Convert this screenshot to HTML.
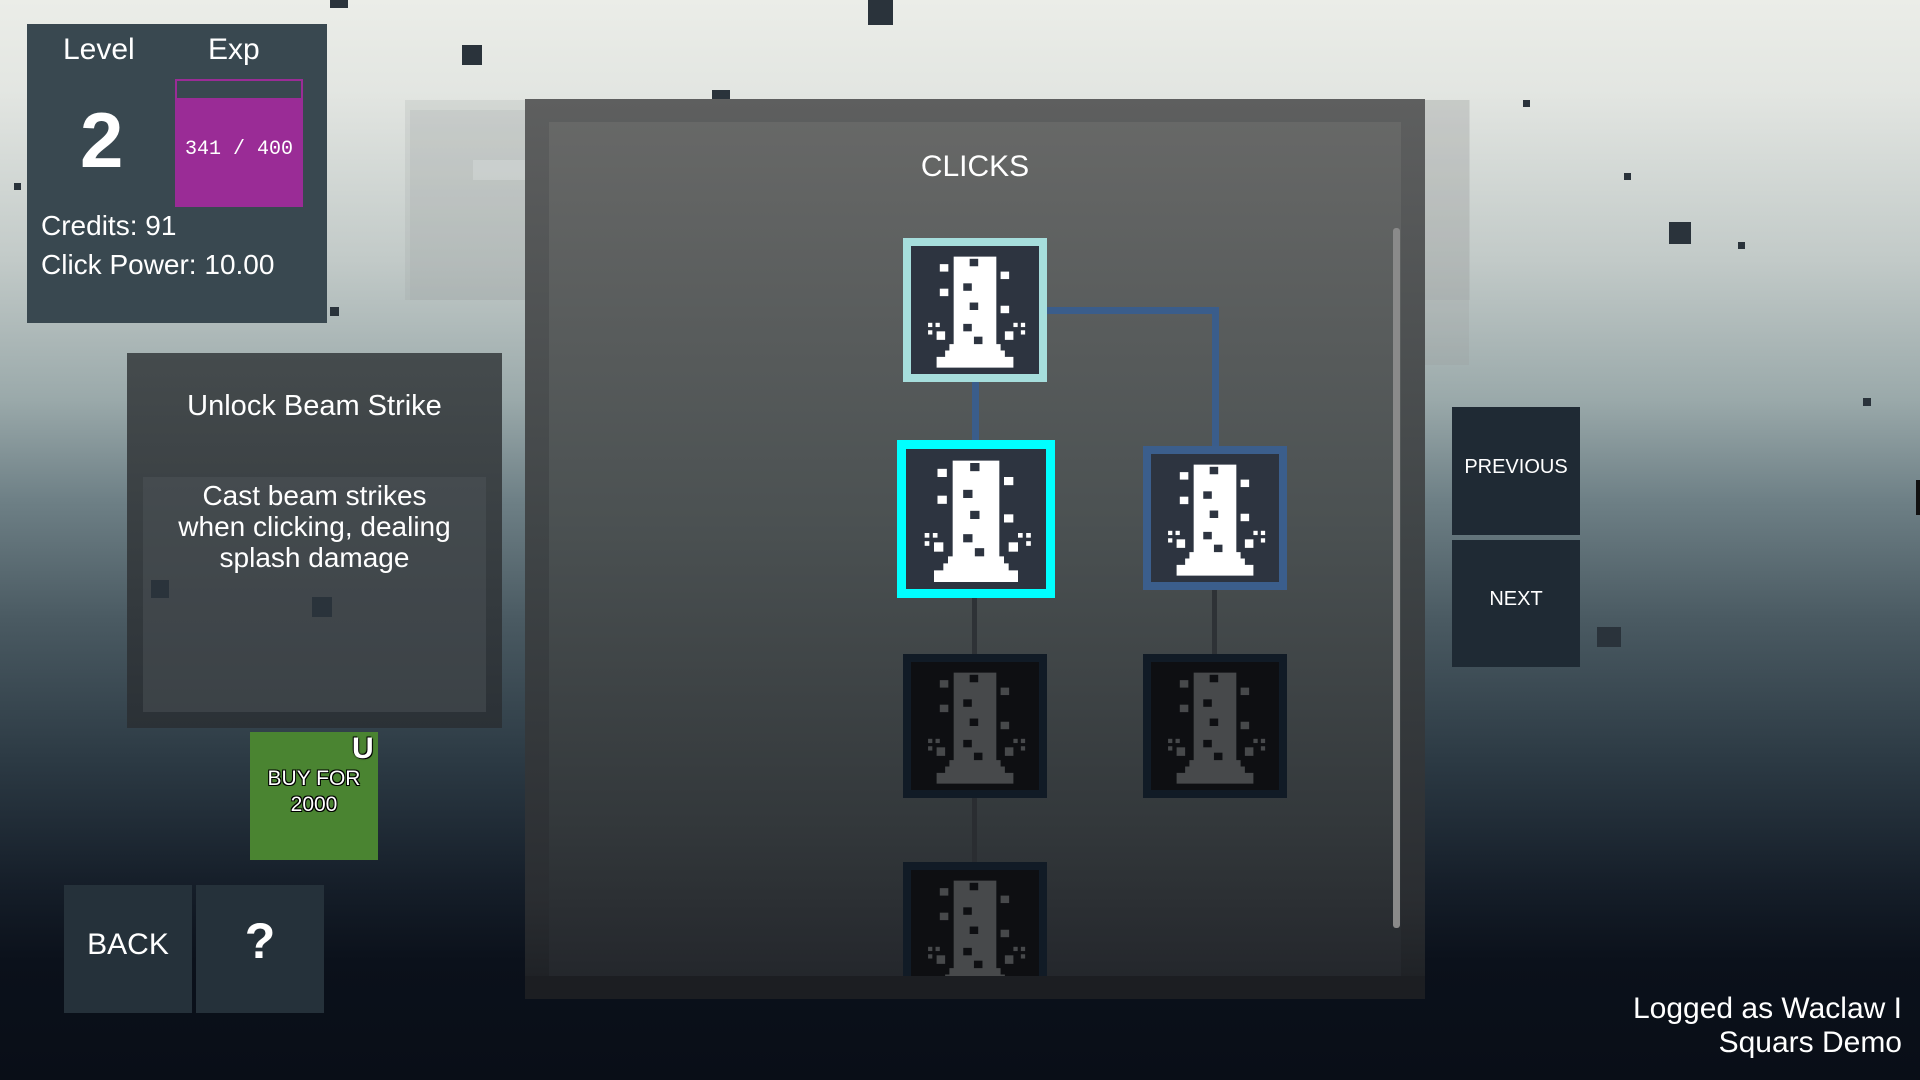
<!DOCTYPE html>
<html><head><meta charset="utf-8"><style>
*{margin:0;padding:0;box-sizing:border-box}
body{width:1920px;height:1080px;overflow:hidden;position:relative;font-family:"Liberation Mono","DejaVu Sans Mono",monospace;color:#fff;
background:linear-gradient(180deg,#ebede8 0px,#e3e6e2 90px,#c2cac8 260px,#9aa9aa 400px,#6e8086 500px,#4a5a62 620px,#2c3a44 760px,#161f2a 880px,#0b111b 960px,#090e17 1080px)}
.a{position:absolute}
.sq{position:absolute;background:#2a333b}
.node{position:absolute;width:144px;height:144px}
.node svg{position:absolute;left:0;top:0}
</style></head><body>
<svg width="0" height="0" style="position:absolute"><defs>
<g id="bld">
<path d="M44 14h40v82h4v6h4v6h8v10H28v-10h8v-6h4v-6h4z" fill="currentColor"/>
<g fill="var(--w,#2d3440)"><rect x="59" y="16" width="8" height="7"/><rect x="53" y="39" width="8" height="7"/><rect x="59" y="57" width="8" height="7"/><rect x="53" y="77" width="8" height="7"/><rect x="63" y="89" width="8" height="7"/></g>
<g fill="currentColor"><rect x="31" y="21" width="8" height="7"/><rect x="31" y="44" width="8" height="7"/><rect x="88" y="28" width="8" height="7"/><rect x="88" y="60" width="8" height="7"/>
<rect x="20" y="76" width="4" height="4"/><rect x="27" y="76" width="4" height="4"/><rect x="20" y="83" width="4" height="4"/><rect x="28" y="84" width="8" height="8"/>
<rect x="100" y="76" width="4" height="4"/><rect x="107" y="76" width="4" height="4"/><rect x="107" y="83" width="4" height="4"/><rect x="92" y="84" width="8" height="8"/></g>
</g></defs></svg>

<div class="a" style="left:405px;top:100px;width:1065px;height:200px;background:rgba(150,155,155,.18)"></div>
<div class="a" style="left:410px;top:110px;width:120px;height:190px;background:rgba(160,165,165,.2)"></div>
<div class="a" style="left:473px;top:160px;width:60px;height:20px;background:rgba(220,225,225,.35)"></div>
<div class="a" style="left:1424px;top:100px;width:45px;height:265px;background:rgba(150,150,150,.2)"></div>

<div class="sq" style="left:330px;top:0;width:18px;height:8px"></div>
<div class="sq" style="left:868px;top:0;width:25px;height:25px"></div>
<div class="sq" style="left:462px;top:45px;width:20px;height:20px"></div>
<div class="sq" style="left:712px;top:90px;width:18px;height:18px"></div>
<div class="sq" style="left:693px;top:183px;width:14px;height:14px"></div>
<div class="sq" style="left:1669px;top:222px;width:22px;height:22px"></div>
<div class="sq" style="left:1067px;top:398px;width:16px;height:16px"></div>
<div class="sq" style="left:717px;top:617px;width:22px;height:22px"></div>
<div class="sq" style="left:609px;top:697px;width:20px;height:20px"></div>
<div class="sq" style="left:1597px;top:627px;width:24px;height:20px"></div>
<div class="sq" style="left:1863px;top:398px;width:8px;height:8px"></div>
<div class="sq" style="left:1523px;top:100px;width:7px;height:7px"></div>
<div class="sq" style="left:1738px;top:242px;width:7px;height:7px"></div>
<div class="sq" style="left:1624px;top:173px;width:7px;height:7px"></div>
<div class="sq" style="left:14px;top:183px;width:7px;height:7px"></div>
<div class="sq" style="left:330px;top:307px;width:9px;height:9px"></div>

<div class="a" style="left:27px;top:24px;width:300px;height:299px;background:#394850"></div>
<div class="a" style="left:63px;top:33px;font-size:30px;font-family:'Liberation Sans',sans-serif">Level</div>
<div class="a" style="left:208px;top:33px;font-size:30px;font-family:'Liberation Sans',sans-serif">Exp</div>
<div class="a" style="left:80px;top:95px;font-size:78px;font-weight:bold;font-family:'Liberation Sans',sans-serif">2</div>
<div class="a" style="left:175px;top:79px;width:128px;height:128px;background:#9a2c96"></div>
<div class="a" style="left:177px;top:81px;width:124px;height:17px;background:#394850"></div>
<div class="a" style="left:175px;top:138px;width:128px;text-align:center;font-size:20px">341 / 400</div>
<div class="a" style="left:41px;top:210px;font-size:28px;font-family:'Liberation Sans',sans-serif">Credits: 91</div>
<div class="a" style="left:41px;top:249px;font-size:28px;font-family:'Liberation Sans',sans-serif">Click Power: 10.00</div>

<div class="a" style="left:127px;top:353px;width:375px;height:375px;background:linear-gradient(180deg,#454b4d,#2b3136)"></div>
<div class="a" style="left:143px;top:477px;width:343px;height:235px;background:rgba(80,86,90,.45)"></div>
<div class="a" style="left:127px;top:390px;width:375px;text-align:center;font-size:29px;font-family:'Liberation Sans',sans-serif">Unlock Beam Strike</div>
<div class="a" style="left:143px;top:480px;width:343px;text-align:center;font-size:28px;line-height:31px;font-family:'Liberation Sans',sans-serif">Cast beam strikes<br>when clicking, dealing<br>splash damage</div>
<div class="sq" style="left:151px;top:580px;width:18px;height:18px"></div>
<div class="sq" style="left:312px;top:597px;width:20px;height:20px"></div>
<div class="a" style="left:250px;top:732px;width:128px;height:128px;background:#4a8431"></div>
<div class="a" style="left:352px;top:732px;font-size:30px;font-weight:bold;font-family:'Liberation Sans',sans-serif;text-shadow:0 0 2px #000,1px 1px 0 #000,-1px -1px 0 #000">U</div>
<div class="a" style="left:250px;top:766px;width:128px;text-align:center;font-size:21px;line-height:26px;font-family:'Liberation Sans',sans-serif;text-shadow:1px 1px 0 #000,-1px -1px 0 #000,1px -1px 0 #000,-1px 1px 0 #000">BUY FOR<br>2000</div>

<div class="a" style="left:64px;top:885px;width:128px;height:128px;background:#25313a"></div>
<div class="a" style="left:196px;top:885px;width:128px;height:128px;background:#25313a"></div>
<div class="a" style="left:64px;top:928px;width:128px;text-align:center;font-size:30px;font-family:'Liberation Sans',sans-serif">BACK</div>
<div class="a" style="left:196px;top:912px;width:128px;text-align:center;font-size:50px;font-weight:bold;font-family:'Liberation Sans',sans-serif">?</div>

<div class="a" style="left:525px;top:99px;width:900px;height:900px;background:linear-gradient(180deg,#5e5f5f,#3f4446 450px,#2a2d31 800px,#1c1f23);"></div>
<div class="a" style="left:549px;top:122px;width:852px;height:854px;background:linear-gradient(180deg,#676867,#4b5152 400px,#33383b 700px,#24272c)"></div>
<div class="a" style="left:525px;top:976px;width:900px;height:23px;background:#1c1e22"></div>
<div class="a" style="left:549px;top:150px;width:852px;text-align:center;font-size:30px;font-family:'Liberation Sans',sans-serif">CLICKS</div>
<div class="a" style="left:1393px;top:228px;width:7px;height:700px;background:#8a8a8a;border-radius:3px"></div>

<div class="a" style="left:972px;top:380px;width:7px;height:62px;background:#3a5d8b"></div>
<div class="a" style="left:1045px;top:307px;width:174px;height:7px;background:#3a5d8b"></div>
<div class="a" style="left:1212px;top:307px;width:7px;height:141px;background:#3a5d8b"></div>
<div class="a" style="left:972px;top:596px;width:5px;height:60px;background:#2e3236"></div>
<div class="a" style="left:1212px;top:590px;width:5px;height:66px;background:#2e3236"></div>
<div class="a" style="left:972px;top:797px;width:5px;height:68px;background:#2a2d31"></div>

<div class="node" style="left:903px;top:238px;background:#2d3440;border:8px solid #a6dedc"><svg width="128" height="128" viewBox="4 4 120 120" style="color:#fff"><use href="#bld"/></svg></div>
<div class="node" style="left:897px;top:440px;width:158px;height:158px;background:#2d3440;border:9px solid #00ffff"><svg width="140" height="140" viewBox="4 4 120 120" style="color:#fff"><use href="#bld"/></svg></div>
<div class="node" style="left:1143px;top:446px;background:#2d3440;border:8px solid #3b5e8c"><svg width="128" height="128" viewBox="4 4 120 120" style="color:#fff"><use href="#bld"/></svg></div>
<div class="node" style="left:903px;top:654px;background:#0e0f12;border:8px solid #111b26;--w:#0e0f12"><svg width="128" height="128" viewBox="4 4 120 120" style="color:#47494b"><use href="#bld"/></svg></div>
<div class="node" style="left:1143px;top:654px;background:#0e0f12;border:8px solid #111b26;--w:#0e0f12"><svg width="128" height="128" viewBox="4 4 120 120" style="color:#47494b"><use href="#bld"/></svg></div>
<div class="node" style="left:903px;top:862px;height:114px;overflow:hidden;background:#0e0f12;border:8px solid #111b26;border-bottom:0;--w:#0e0f12"><svg width="128" height="128" viewBox="4 4 120 120" style="color:#47494b"><use href="#bld"/></svg></div>

<div class="a" style="left:1452px;top:407px;width:128px;height:128px;background:#1f2a34"></div>
<div class="a" style="left:1452px;top:540px;width:128px;height:127px;background:#1f2a34"></div>
<div class="a" style="left:1452px;top:456px;width:128px;text-align:center;font-size:20px;font-family:'Liberation Sans',sans-serif">PREVIOUS</div>
<div class="a" style="left:1452px;top:588px;width:128px;text-align:center;font-size:20px;font-family:'Liberation Sans',sans-serif">NEXT</div>
<div class="a" style="left:1916px;top:480px;width:4px;height:35px;background:#111"></div>

<div class="a" style="right:18px;top:992px;text-align:right;font-size:30px;line-height:34px;font-family:'Liberation Sans',sans-serif">Logged as Waclaw I<br>Squars Demo</div>
</body></html>
